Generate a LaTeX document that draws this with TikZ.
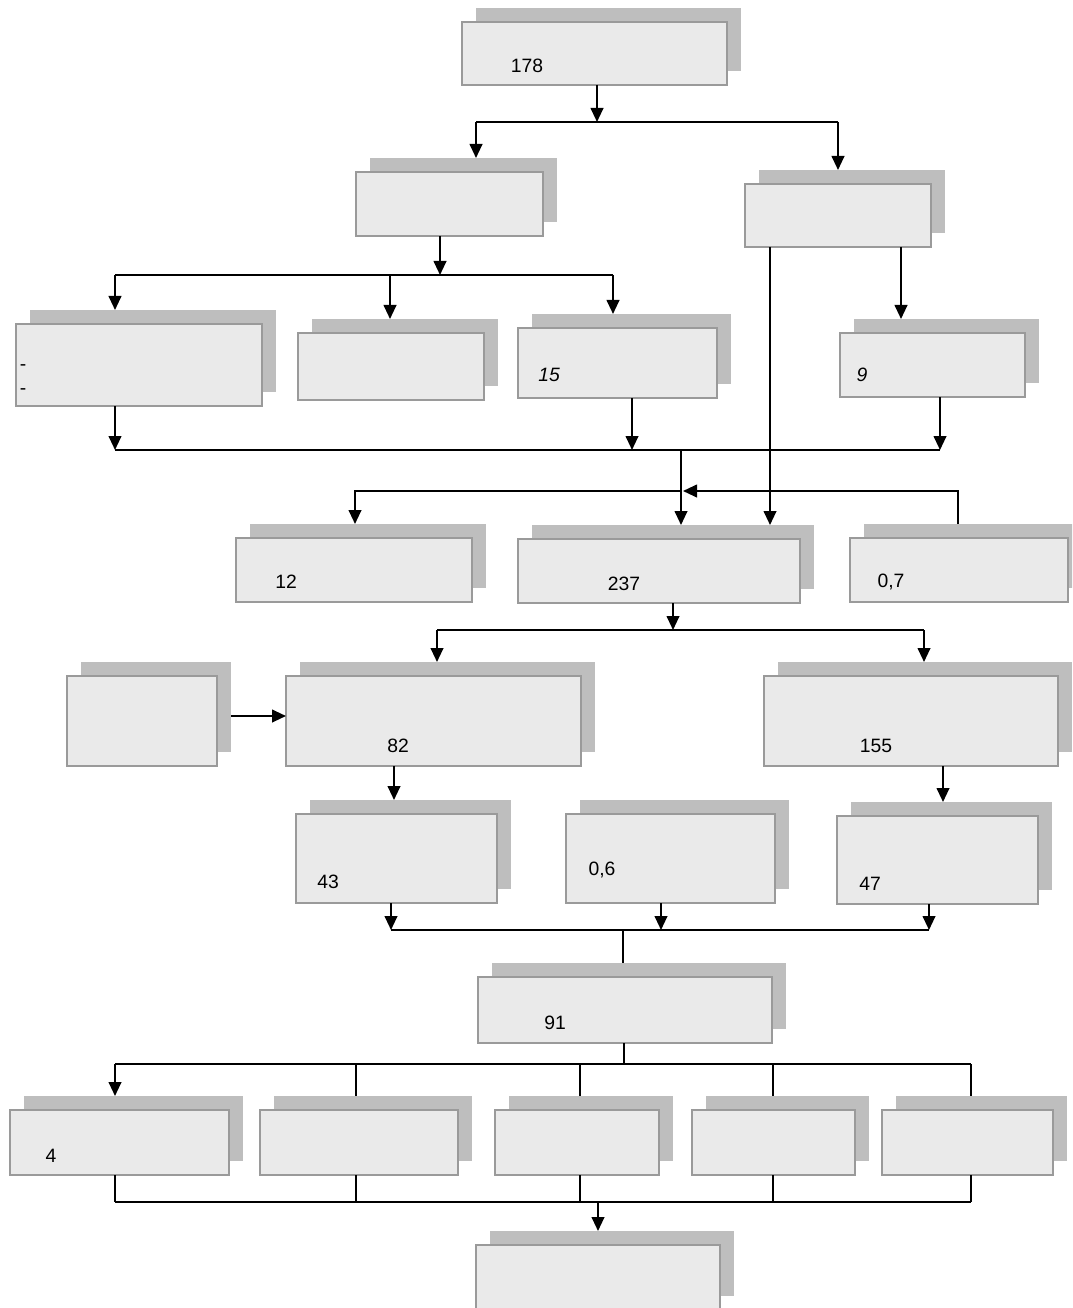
\documentclass[tikz,border=0pt]{standalone}
\usepackage{fontspec}
\setmainfont{Liberation Sans}
\usetikzlibrary{arrows.meta}
\definecolor{shadowgray}{HTML}{BEBEBE}
\definecolor{boxfill}{HTML}{EAEAEA}
\definecolor{boxline}{HTML}{9A9A9A}
\tikzset{
  shadowbox/.style={fill=shadowgray, inner sep=0pt, outer sep=0pt},
  frontbox/.style={fill=boxfill, draw=boxline, line width=1.2pt, inner sep=0pt, outer sep=0pt},
  ln/.style={line width=1.5pt, black},
  arr/.style={ln, -{Triangle[length=10.5pt,width=9.5pt]}},
  val/.style={font=\fontsize{14.5}{17}\selectfont, inner sep=0pt, anchor=base},
}
% box with its offset shadow: name, x1, y1, x2, y2 (front rectangle)
\newcommand\shbox[5]{%
  \node[shadowbox, minimum width={(#4-#2)*0.75pt}, minimum height={(#5-#3)*0.75pt}]
    (#1s) at ({(#2+#4)/2+14},{(#3+#5)/2-14}) {};
  \node[frontbox, minimum width={(#4-#2)*0.75pt}, minimum height={(#5-#3)*0.75pt}]
    (#1) at ({(#2+#4)/2},{(#3+#5)/2}) {};
}
\begin{document}
\begin{tikzpicture}[x=0.75pt, y=-0.75pt]
\useasboundingbox (0,0) rectangle (1072,1308);
\clip (0,0) rectangle (1072,1308);

% boxes
\shbox{bTop}{462}{22}{727}{85}
\shbox{bL2}{356}{172}{543}{236}
\shbox{bR2}{745}{184}{931}{247}
\shbox{bA}{16}{324}{262}{406}
\shbox{bB}{298}{333}{484}{400}
\shbox{bC}{518}{328}{717}{398}
\shbox{bD}{840}{333}{1025}{397}
\shbox{bE}{236}{538}{472}{602}
\shbox{bF}{518}{539}{800}{603}
\shbox{bG}{850}{538}{1068}{602}
\shbox{bH}{67}{676}{217}{766}
\shbox{bI}{286}{676}{581}{766}
\shbox{bJ}{764}{676}{1058}{766}
\shbox{bK}{296}{814}{497}{903}
\shbox{bL}{566}{814}{775}{903}
\shbox{bM}{837}{816}{1038}{904}
\shbox{bN}{478}{977}{772}{1043}
\shbox{bP1}{10}{1110}{229}{1175}
\shbox{bP2}{260}{1110}{458}{1175}
\shbox{bP3}{495}{1110}{659}{1175}
\shbox{bP4}{692}{1110}{855}{1175}
\shbox{bP5}{882}{1110}{1053}{1175}
\shbox{bQ}{476}{1245}{720}{1310}

% values
\node[val] (tTop) at (527,73) {178};
\node[val] (tA1) at (23,370) {-};
\node[val] (tA2) at (23,394) {-};
\node[val] (tC) at (549,382) {\itshape 15};
\node[val] (tD) at (862,382) {\itshape 9};
\node[val] (tE) at (286,588) {12};
\node[val] (tF) at (624,590) {237};
\node[val] (tG) at (891,587) {0,7};
\node[val] (tI) at (398,752) {82};
\node[val] (tJ) at (876,752) {155};
\node[val] (tK) at (328,888) {43};
\node[val] (tL) at (602,875) {0,6};
\node[val] (tM) at (870,890) {47};
\node[val] (tN) at (555,1029) {91};
\node[val] (tP1) at (51,1162) {4};

% top split
\coordinate (j1) at (597,122);
\coordinate (j1l) at (476,122);
\coordinate (j1r) at (838,122);
\draw[arr] (j1 |- bTop.south) -- (j1);
\draw[ln] (j1l) -- (j1r);
\draw[arr] (j1l) -- (j1l |- bL2s.north);
\draw[arr] (j1r) -- (j1r |- bR2s.north);

% left branch split
\coordinate (j2) at (440,275);
\coordinate (j2a) at (115,275);
\coordinate (j2b) at (390,275);
\coordinate (j2c) at (613,275);
\draw[arr] (j2 |- bL2.south) -- (j2);
\draw[ln] (j2a) -- (j2c);
\draw[arr] (j2a) -- (j2a |- bAs.north);
\draw[arr] (j2b) -- (j2b |- bBs.north);
\draw[arr] (j2c) -- (j2c |- bCs.north);

% right branch
\coordinate (r1) at (770,300);
\coordinate (r2) at (901,300);
\draw[arr] (r1 |- bR2.south) -- (r1 |- bFs.north);
\draw[arr] (r2 |- bR2.south) -- (r2 |- bDs.north);

% third row merge
\coordinate (k1) at (115,450);
\coordinate (k2) at (632,450);
\coordinate (k3) at (940,450);
\coordinate (k4) at (681,450);
\draw[arr] (k1 |- bA.south) -- (k1);
\draw[arr] (k2 |- bC.south) -- (k2);
\draw[arr] (k3 |- bD.south) -- (k3);
\draw[ln] (k1) -- (k3);
\draw[arr] (k4) -- (k4 |- bFs.north);

% side links of the middle row
\coordinate (m1) at (958,491);
\coordinate (m2) at (683,491);
\coordinate (m3) at (681,491);
\coordinate (m4) at (355,491);
\draw[arr] (m1 |- bGs.north) -- (m1) -- (m2);
\draw[arr] (m3) -- (m4) -- (m4 |- bEs.north);

% split under 237
\coordinate (n0) at (673,630);
\coordinate (n1) at (437,630);
\coordinate (n2) at (924,630);
\draw[arr] (n0 |- bF.south) -- (n0);
\draw[ln] (n1) -- (n2);
\draw[arr] (n1) -- (n1 |- bIs.north);
\draw[arr] (n2) -- (n2 |- bJs.north);

% side input to 82
\coordinate (h) at (0,716);
\draw[arr] (bHs.east |- h) -- (bI.west |- h);

% down from 82 and 155
\coordinate (p1) at (394,800);
\coordinate (p2) at (943,800);
\draw[arr] (p1 |- bI.south) -- (p1 |- bKs.north);
\draw[arr] (p2 |- bJ.south) -- (p2 |- bMs.north);

% merge into 91
\coordinate (q1) at (391,930);
\coordinate (q2) at (661,930);
\coordinate (q3) at (929,930);
\coordinate (q4) at (623,930);
\draw[arr] (q1 |- bK.south) -- (q1);
\draw[arr] (q2 |- bL.south) -- (q2);
\draw[arr] (q3 |- bM.south) -- (q3);
\draw[ln] (q1) -- (q3);
\draw[ln] (q4) -- (q4 |- bNs.north);

% split under 91
\coordinate (u0) at (624,1064);
\coordinate (u1) at (115,1064);
\coordinate (u2) at (356,1064);
\coordinate (u3) at (580,1064);
\coordinate (u4) at (773,1064);
\coordinate (u5) at (971,1064);
\draw[ln] (u0 |- bN.south) -- (u0);
\draw[ln] (u1) -- (u5);
\draw[arr] (u1) -- (u1 |- bP1s.north);
\draw[ln] (u2) -- (u2 |- bP2s.north);
\draw[ln] (u3) -- (u3 |- bP3s.north);
\draw[ln] (u4) -- (u4 |- bP4s.north);
\draw[ln] (u5) -- (u5 |- bP5s.north);

% final merge
\coordinate (v0) at (598,1202);
\coordinate (v1) at (115,1202);
\coordinate (v2) at (356,1202);
\coordinate (v3) at (580,1202);
\coordinate (v4) at (773,1202);
\coordinate (v5) at (971,1202);
\draw[ln] (v1 |- bP1.south) -- (v1);
\draw[ln] (v2 |- bP2.south) -- (v2);
\draw[ln] (v3 |- bP3.south) -- (v3);
\draw[ln] (v4 |- bP4.south) -- (v4);
\draw[ln] (v5 |- bP5.south) -- (v5);
\draw[ln] (v1) -- (v5);
\draw[arr] (v0) -- (v0 |- bQs.north);
\end{tikzpicture}
\end{document}
